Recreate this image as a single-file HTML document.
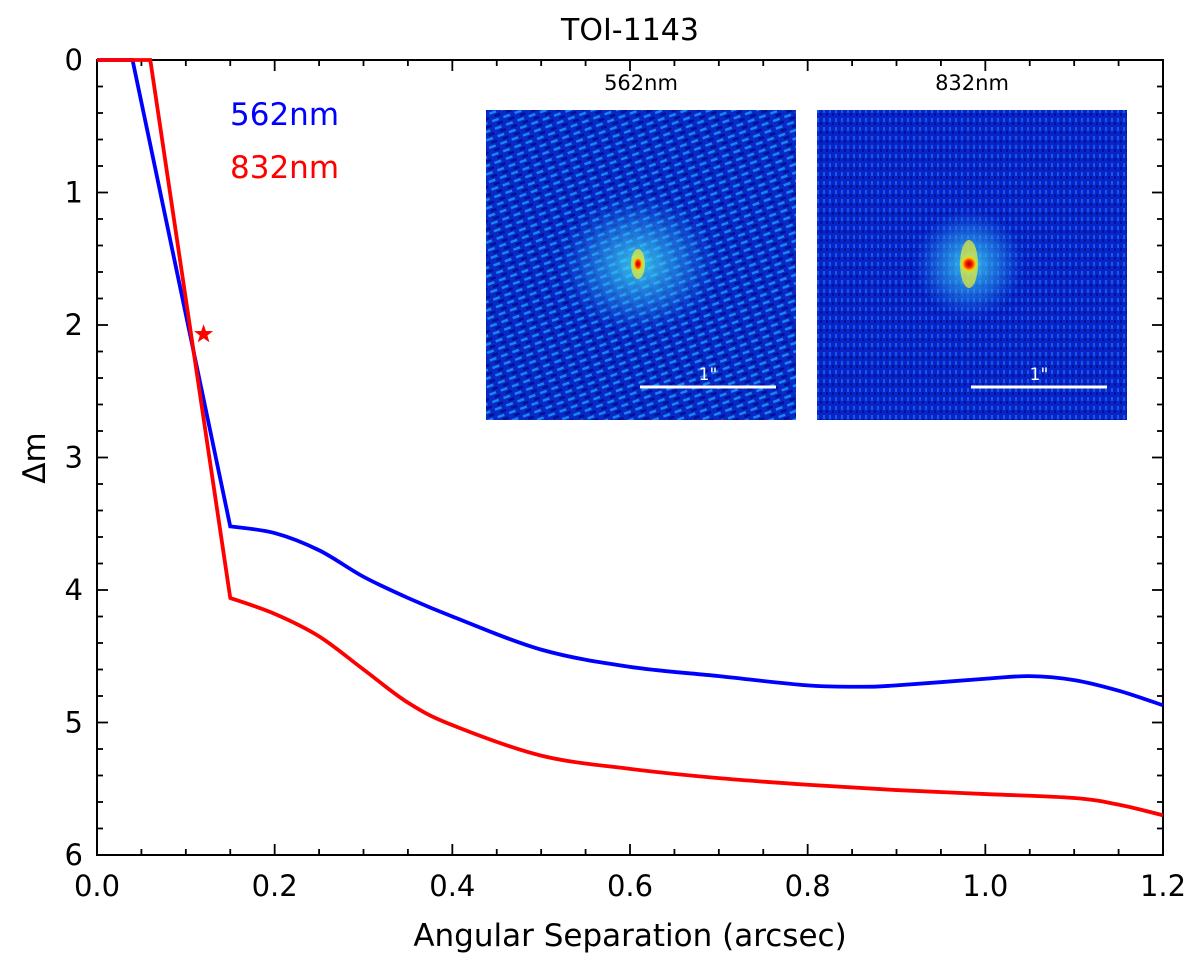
<!DOCTYPE html>
<html><head><meta charset="utf-8"><style>
html,body{margin:0;padding:0;background:#fff;}
svg text{font-family:"DejaVu Sans","Liberation Sans",sans-serif;}
</style></head><body>
<svg id="chart" width="1200" height="964" viewBox="0 0 1200 964" xmlns="http://www.w3.org/2000/svg">
<defs>
<pattern id="noise1" width="12" height="8" patternUnits="userSpaceOnUse" patternTransform="rotate(-20)">
<rect width="12" height="8" fill="#0828c8"/>
<rect x="1" y="1" width="7" height="2.5" fill="#1a90f0" opacity="0.9"/>
<rect x="5" y="5" width="6" height="2.5" fill="#00108a" opacity="0.9"/>
</pattern>
<pattern id="noise2" width="6" height="9" patternUnits="userSpaceOnUse">
<rect width="6" height="9" fill="#0824c8"/>
<rect x="1" y="1" width="2" height="4" fill="#1868ec" opacity="0.8"/>
<rect x="4" y="5" width="2" height="3" fill="#00108e" opacity="0.9"/>
</pattern>
<radialGradient id="glow1"><stop offset="0" stop-color="#40e0f0" stop-opacity="0.85"/><stop offset="0.6" stop-color="#30b0f0" stop-opacity="0.4"/><stop offset="1" stop-color="#2080f0" stop-opacity="0"/></radialGradient>
<radialGradient id="core"><stop offset="0" stop-color="#a00000"/><stop offset="0.35" stop-color="#ff2000"/><stop offset="0.65" stop-color="#ffd000"/><stop offset="1" stop-color="#60ffa0" stop-opacity="0"/></radialGradient>
</defs>
<g id="plot"></g>
</svg>
<script>
const x562 = [0.00, 0.04, 0.15, 0.20, 0.25, 0.30, 0.35, 0.40, 0.50, 0.60, 0.70, 0.80, 0.86, 0.90, 1.00, 1.05, 1.10, 1.15, 1.20];
const y562 = [0.00, 0.00, 3.52, 3.57, 3.70, 3.90, 4.06, 4.20, 4.45, 4.58, 4.65, 4.72, 4.73, 4.72, 4.67, 4.65, 4.68, 4.76, 4.87];
const x832 = [0.00, 0.06, 0.15, 0.20, 0.25, 0.30, 0.35, 0.40, 0.50, 0.60, 0.70, 0.80, 0.90, 1.00, 1.10, 1.15, 1.20];
const y832 = [0.00, 0.00, 4.06, 4.18, 4.35, 4.60, 4.85, 5.02, 5.25, 5.35, 5.42, 5.47, 5.51, 5.54, 5.57, 5.62, 5.70];
const starPoint = [0.12, 2.07];
const xTicks = [0.0, 0.2, 0.4, 0.6, 0.8, 1.0, 1.2];
const xTickLabels = ["0.0","0.2","0.4","0.6","0.8","1.0","1.2"];
const yTicks = [0,1,2,3,4,5,6];
const yTickLabels = ["0","1","2","3","4","5","6"];

const L=97,R=1163,T=60,B=855;
const sx=v=>L+(v-0)/(1.2)*(R-L);
const sy=v=>T+(v-0)/6*(B-T);
const NS="http://www.w3.org/2000/svg";
const g=document.getElementById('plot');
function mk(tag,attrs,parent){const e=document.createElementNS(NS,tag);for(const k in attrs)e.setAttribute(k,attrs[k]);(parent||g).appendChild(e);return e;}

const ins=[{x:486,lab:"562nm",fill:"url(#noise1)",nm:"inset-562nm"},{x:817,lab:"832nm",fill:"url(#noise2)",nm:"inset-832nm"}];
ins.forEach((o,i)=>{
 const grp=mk('g',{});
 
 
 mk('rect',{x:o.x,y:110,width:310,height:310,fill:o.fill},grp);
 const cx=o.x+152, cy=264;
 mk('ellipse',{cx:cx,cy:cy,rx:i==0?80:55,ry:i==0?70:55,fill:'url(#glow1)'},grp);
 mk('ellipse',{cx:cx,cy:cy,rx:i==0?7:9,ry:i==0?15:24,fill:'#f0f030',opacity:0.7},grp);
 mk('ellipse',{cx:cx,cy:cy,rx:i==0?6:10,ry:i==0?9:10,fill:'url(#core)'},grp);
 mk('line',{x1:o.x+154,y1:387,x2:o.x+290,y2:387,stroke:'#fff','stroke-width':3},grp);
 const t=mk('text',{x:o.x+222,y:380,'font-size':17,fill:'#fff','text-anchor':'middle'},grp);t.textContent='1"';
 const tl=mk('text',{x:o.x+155,y:90,'font-size':21,fill:'#000','text-anchor':'middle'},grp);tl.textContent=o.lab;
});

const frame=mk('rect',{x:L,y:T,width:R-L,height:B-T,fill:'none',stroke:'#000','stroke-width':2});



for(let v=0;v<=1.2001;v+=0.05){
 const X=sx(v);const major=Math.abs(v/0.2-Math.round(v/0.2))<1e-6;const len=major?11:6;
 mk('line',{x1:X,y1:B,x2:X,y2:B-len,stroke:'#000','stroke-width':1.8});
 mk('line',{x1:X,y1:T,x2:X,y2:T+len,stroke:'#000','stroke-width':1.8});
}
for(let v=0;v<=6.001;v+=0.2){
 const Y=sy(v);const major=Math.abs(v-Math.round(v))<1e-6;const len=major?11:6;
 mk('line',{x1:L,y1:Y,x2:L+len,y2:Y,stroke:'#000','stroke-width':1.8});
 mk('line',{x1:R,y1:Y,x2:R-len,y2:Y,stroke:'#000','stroke-width':1.8});
}
xTicks.forEach((v,i)=>{const t=mk('text',{x:sx(v),y:B+41,'font-size':29,'text-anchor':'middle'});t.textContent=xTickLabels[i];
 });
yTicks.forEach((v,i)=>{const t=mk('text',{x:L-14,y:sy(v)+10,'font-size':29,'text-anchor':'end'});t.textContent=yTickLabels[i];
 });

function smoothPath(xs,ys,k0){
 const P=xs.map((x,i)=>[sx(x),sy(ys[i])]);
 let d='M'+P[0][0]+','+P[0][1];
 for(let i=1;i<=k0;i++)d+=' L'+P[i][0]+','+P[i][1];
 for(let i=k0;i<P.length-1;i++){
  const p0=P[Math.max(i-1,k0)],p1=P[i],p2=P[i+1],p3=P[Math.min(i+2,P.length-1)];
  const c1=[p1[0]+(p2[0]-p0[0])/6,p1[1]+(p2[1]-p0[1])/6];
  const c2=[p2[0]-(p3[0]-p1[0])/6,p2[1]-(p3[1]-p1[1])/6];
  d+=` C${c1[0]},${c1[1]} ${c2[0]},${c2[1]} ${p2[0]},${p2[1]}`;
 }
 return d;
}
const lb=mk('path',{d:smoothPath(x562,y562,2),fill:'none',stroke:'#0000ff','stroke-width':3.8});


const lr=mk('path',{d:smoothPath(x832,y832,2),fill:'none',stroke:'#ff0000','stroke-width':3.8});



const scx=sx(starPoint[0]),scy=sy(starPoint[1]);let sp='';
for(let i=0;i<10;i++){const r=i%2?4:10;const a=-Math.PI/2+i*Math.PI/5;sp+=(scx+r*Math.cos(a))+','+(scy+r*Math.sin(a))+' ';}
const st=mk('polygon',{points:sp,fill:'#ff0000'});



const l1=mk('text',{x:230,y:125,'font-size':31,fill:'#0000ff'});l1.textContent='562nm';

const l2=mk('text',{x:230,y:178,'font-size':31,fill:'#ff0000'});l2.textContent='832nm';


const tt=mk('text',{x:630,y:40,'font-size':30,'text-anchor':'middle'});tt.textContent='TOI-1143';

const xt=mk('text',{x:630,y:946,'font-size':31,'text-anchor':'middle'});xt.textContent='Angular Separation (arcsec)';

const yt=mk('text',{x:0,y:0,'font-size':31,'text-anchor':'middle',transform:'translate(45,458) rotate(-90)'});yt.textContent='Δm';

</script>
</body></html>
